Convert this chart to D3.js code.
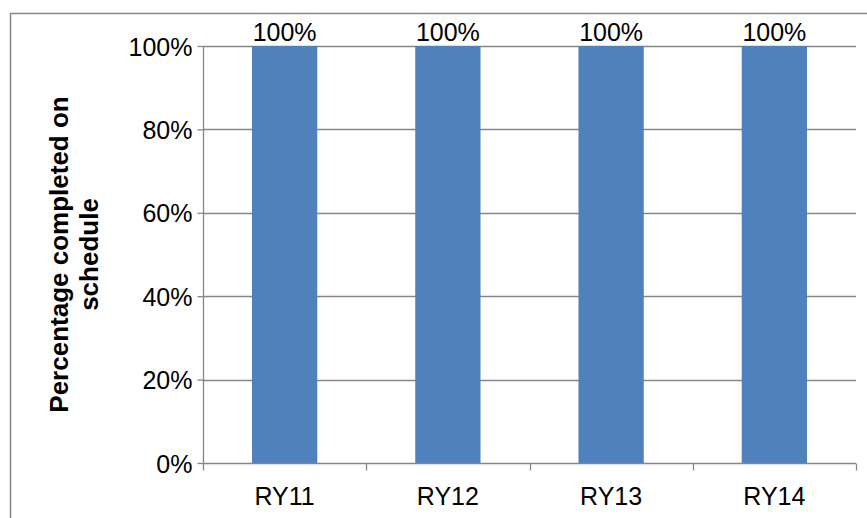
<!DOCTYPE html>
<html>
<head>
<meta charset="utf-8">
<script src="https://cdn.jsdelivr.net/npm/d3@7"></script>
<style>
  html, body { margin: 0; padding: 0; background: #fff; }
  svg { display: block; font-family: "Liberation Sans", Arial, sans-serif; }
</style>
</head>
<body>
<svg id="chart" width="867" height="518"></svg>
<script>
// Completion rate by reporting year
const categories = ["RY11", "RY12", "RY13", "RY14"];
const values = [1.0, 1.0, 1.0, 1.0];
const yTicks = [0, 0.2, 0.4, 0.6, 0.8, 1.0];
const yTitleLines = ["Percentage completed on", "schedule"];

const svg = d3.select("#chart");
const W = 867, H = 518;
const plot = { left: 203, right: 856, top: 46, bottom: 463 };
const gray = "#868686";
const barColor = "#4F81BD";
const fontSize = 25;
const titleSize = 26;

// chart frame
svg.append("rect")
  .attr("x", 10.5).attr("y", 13.5)
  .attr("width", W + 20).attr("height", H + 20)
  .attr("fill", "none").attr("stroke", gray).attr("stroke-width", 1.5);

const x = d3.scaleBand().domain(categories).range([plot.left, plot.right]).padding(0);
const y = d3.scaleLinear().domain([0, 1]).range([plot.bottom, plot.top]);
const fmt = d3.format(".0%");

// horizontal gridlines
svg.append("g")
  .selectAll("line")
  .data(yTicks.filter(t => t > 0))
  .join("line")
  .attr("x1", plot.left).attr("x2", plot.right)
  .attr("y1", d => Math.round(y(d)) + 0.5).attr("y2", d => Math.round(y(d)) + 0.5)
  .attr("stroke", gray).attr("stroke-width", 1.3);

// bars
const barW = x.bandwidth() * 0.4;
svg.append("g")
  .selectAll("rect")
  .data(categories)
  .join("rect")
  .attr("x", (d) => x(d) + (x.bandwidth() - barW) / 2)
  .attr("width", barW)
  .attr("y", (d, i) => y(values[i]))
  .attr("height", (d, i) => y(0) - y(values[i]))
  .attr("fill", barColor);

// value labels
svg.append("g")
  .selectAll("text")
  .data(categories)
  .join("text")
  .attr("x", d => x(d) + x.bandwidth() / 2)
  .attr("y", (d, i) => y(values[i]) - 5)
  .attr("text-anchor", "middle")
  .attr("font-size", fontSize)
  .attr("fill", "#000")
  .text((d, i) => fmt(values[i]));

// y axis
const yAxis = d3.axisLeft(y).tickValues(yTicks).tickFormat(fmt).tickSize(6).tickPadding(5);
const gy = svg.append("g").attr("transform", `translate(${plot.left + 0.5},0)`).call(yAxis);
gy.select(".domain").attr("stroke", gray).attr("stroke-width", 1.3).attr("d", `M0,${plot.top}V${plot.bottom}`);
gy.selectAll(".tick line").attr("stroke", gray).attr("stroke-width", 1.3);
gy.selectAll(".tick text")
  .attr("font-size", fontSize).attr("font-family", "Liberation Sans, Arial, sans-serif")
  .attr("fill", "#000").attr("dy", "0.36em");

// x axis with ticks at category boundaries
const gx = svg.append("g").attr("transform", `translate(0,${plot.bottom + 0.5})`);
gx.append("line")
  .attr("x1", plot.left).attr("x2", plot.right)
  .attr("stroke", gray).attr("stroke-width", 1.3);
const boundaries = categories.map(c => x(c)).concat([plot.right]);
gx.selectAll("line.b")
  .data(boundaries)
  .join("line")
  .attr("class", "b")
  .attr("x1", d => Math.round(d) + 0.5).attr("x2", d => Math.round(d) + 0.5)
  .attr("y1", 0).attr("y2", 7)
  .attr("stroke", gray).attr("stroke-width", 1.3);
gx.selectAll("text")
  .data(categories)
  .join("text")
  .attr("x", d => x(d) + x.bandwidth() / 2)
  .attr("y", 41)
  .attr("text-anchor", "middle")
  .attr("font-size", fontSize)
  .attr("fill", "#000")
  .text(d => d);

// y axis title
const title = svg.append("text")
  .attr("transform", `translate(68,${(plot.top + plot.bottom) / 2}) rotate(-90)`)
  .attr("text-anchor", "middle")
  .attr("font-size", titleSize)
  .attr("font-weight", "bold")
  .attr("fill", "#000");
title.selectAll("tspan")
  .data(yTitleLines)
  .join("tspan")
  .attr("x", 0)
  .attr("dy", (d, i) => i === 0 ? "0em" : "1.15em")
  .text(d => d);
</script>
</body>
</html>
